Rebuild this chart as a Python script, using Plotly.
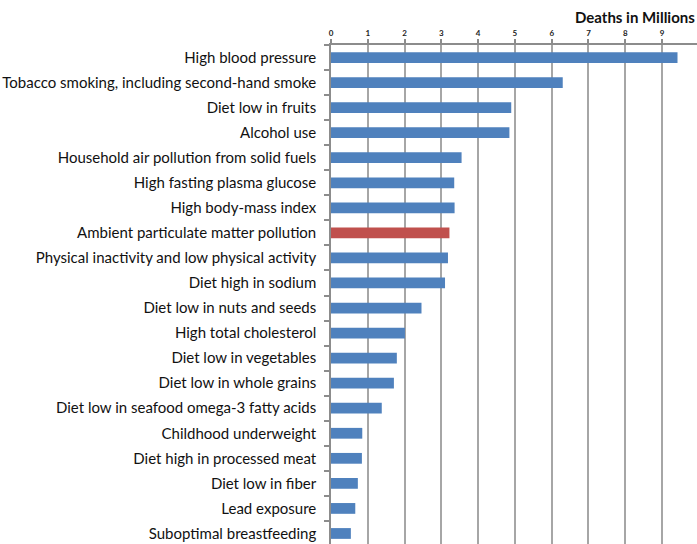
import plotly.graph_objects as go

categories = [
    "High blood pressure",
    "Tobacco smoking, including second-hand smoke",
    "Diet low in fruits",
    "Alcohol use",
    "Household air pollution from solid fuels",
    "High fasting plasma glucose",
    "High body-mass index",
    "Ambient particulate matter pollution",
    "Physical inactivity and low physical activity",
    "Diet high in sodium",
    "Diet low in nuts and seeds",
    "High total cholesterol",
    "Diet low in vegetables",
    "Diet low in whole grains",
    "Diet low in seafood omega-3 fatty acids",
    "Childhood underweight",
    "Diet high in processed meat",
    "Diet low in fiber",
    "Lead exposure",
    "Suboptimal breastfeeding",
]
deaths_millions = [9.42, 6.30, 4.90, 4.85, 3.55, 3.35, 3.36, 3.22, 3.18, 3.10,
                   2.46, 2.01, 1.79, 1.71, 1.38, 0.85, 0.84, 0.73, 0.66, 0.54]
highlight = "Ambient particulate matter pollution"
x_ticks = list(range(0, 11))

BLUE = "#4F81BD"
RED = "#C0504D"
colors = [RED if c == highlight else BLUE for c in categories]

fig = go.Figure(go.Bar(
    x=deaths_millions,
    y=categories,
    orientation="h",
    marker=dict(color=colors, line=dict(width=0)),
    width=0.43,
))

fig.update_layout(
    width=697, height=544,
    margin=dict(l=331, r=0, t=45, b=0),
    paper_bgcolor="white", plot_bgcolor="white",
    showlegend=False,
    font=dict(family="Lato, Open Sans, sans-serif", color="#111111"),
    xaxis=dict(
        side="top", range=[0, 9.95], tickvals=x_ticks,
        ticktext=["<b>%d</b>" % t for t in x_ticks],
        showgrid=True, gridcolor="#a6a6a6", gridwidth=1.5,
        showline=True, linecolor="#8c8c8c", linewidth=1.5,
        ticks="outside", ticklen=4, tickcolor="#8c8c8c", tickwidth=1.5,
        tickfont=dict(size=8, color="#222222", family="Lato, sans-serif"),
        zeroline=False, fixedrange=True,
    ),
    yaxis=dict(
        type="category", categoryorder="array", categoryarray=categories,
        range=[19.42, -0.5],
        showline=True, linecolor="#8c8c8c", linewidth=1.5,
        ticks="outside", ticklen=5, tickcolor="#8c8c8c", tickwidth=1.5,
        tickson="boundaries",
        showgrid=False,
        tickfont=dict(size=15, color="#111111"),
        ticklabelstandoff=10,
    ),
    annotations=[dict(
        text="<b>Deaths in Millions</b>", xref="paper", yref="paper",
        x=1, y=1 + 28 / 499, xanchor="right", yanchor="middle",
        showarrow=False, font=dict(size=15, color="#111111"),
    )],
)

fig.write_html("out.html")
